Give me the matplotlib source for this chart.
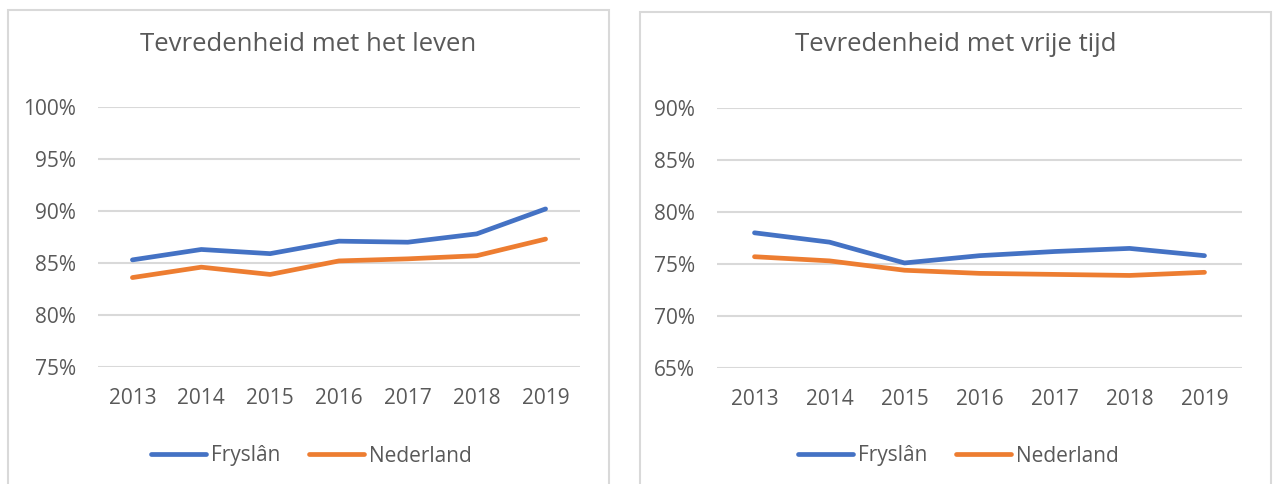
import numpy as np
import matplotlib
matplotlib.use("Agg")
import matplotlib.pyplot as plt
from matplotlib.patches import Rectangle
from matplotlib.ticker import FuncFormatter

plt.rcParams['font.family'] = ['Open Sans', 'DejaVu Sans']

years = ['2013', '2014', '2015', '2016', '2017', '2018', '2019']

# tevredenheid met het leven (%)
leven_fryslan = [85.3, 86.3, 85.9, 87.1, 87.0, 87.8, 90.2]
leven_nl = [83.6, 84.6, 83.9, 85.2, 85.4, 85.7, 87.3]

# tevredenheid met vrije tijd (%)
vrij_fryslan = [78.0, 77.1, 75.1, 75.8, 76.2, 76.5, 75.8]
vrij_nl = [75.7, 75.3, 74.4, 74.1, 74.0, 73.9, 74.2]

titles = ['Tevredenheid met het leven', 'Tevredenheid met vrije tijd']
ylims = [(75, 100), (65, 90)]

BLUE = '#4472C4'
ORANGE = '#ED7D31'
GREY_TXT = '#595959'
GRID = '#D9D9D9'

W, H = 1273, 484
fig = plt.figure(figsize=(W / 100, H / 100), dpi=100)

def px(x0, y0, x1, y1):
    # pixel box (top-left origin) -> figure fraction rect
    return [x0 / W, 1 - y1 / H, (x1 - x0) / W, (y1 - y0) / H]

panels = [(8, 10, 609, 490), (640, 12, 1271, 490)]
axes_px = [(98, 107, 580, 367), (717, 108, 1242, 368)]
data = [(leven_fryslan, leven_nl), (vrij_fryslan, vrij_nl)]

for i in range(2):
    x0, y0, x1, y1 = panels[i]
    fig.patches.append(Rectangle((x0 / W, 1 - y1 / H), (x1 - x0) / W, (y1 - y0) / H,
                                 transform=fig.transFigure, fill=False,
                                 edgecolor=GRID, linewidth=1.5))
    ax = fig.add_axes(px(*axes_px[i]))
    fr, nl = data[i]
    xs = np.arange(len(years))
    ax.plot(xs, fr, color=BLUE, lw=3.4, solid_capstyle='round', solid_joinstyle='round', label='Fryslân', zorder=3)
    ax.plot(xs, nl, color=ORANGE, lw=3.4, solid_capstyle='round', solid_joinstyle='round', label='Nederland', zorder=3)
    ax.set_xlim(-0.5, len(years) - 0.5)
    ax.set_ylim(*ylims[i])
    ax.set_yticks(np.arange(ylims[i][0], ylims[i][1] + 1, 5))
    ax.yaxis.set_major_formatter(FuncFormatter(lambda v, p: '%d%%' % v))
    ax.set_xticks(xs)
    ax.set_xticklabels(years)
    ax.grid(axis='y', color=GRID, lw=1.5)
    ax.set_axisbelow(True)
    for s in ax.spines.values():
        s.set_visible(False)
    ax.tick_params(length=0, labelsize=15, colors=GREY_TXT)
    ax.tick_params(axis='y', pad=16)
    ax.tick_params(axis='x', pad=15)

    cx = (x0 + x1) / 2
    fig.text(cx / W, 1 - 51 / H, titles[i], ha='center', va='baseline',
             fontsize=18.5, color=GREY_TXT)
    leg = ax.legend(loc='center', bbox_to_anchor=((cx + 3) / W, 1 - 456 / H),
                    bbox_transform=fig.transFigure, ncol=2, frameon=False,
                    fontsize=15, handlelength=2.65, handletextpad=0.25,
                    columnspacing=1.35, labelcolor=GREY_TXT)

fig.savefig('out.png', dpi=100, facecolor='white')
